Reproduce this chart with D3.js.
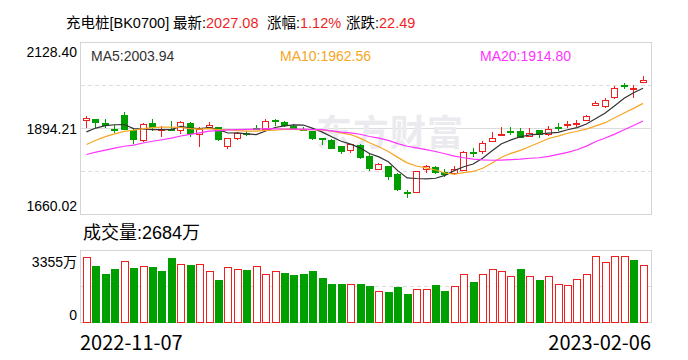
<!DOCTYPE html>
<html>
<head>
<meta charset="utf-8">
<script src="https://cdn.jsdelivr.net/npm/d3@7"></script>
<style>
  body { margin: 0; background: #fff; }
  text { font-family: "Liberation Sans", "Noto Sans CJK SC", sans-serif; }
  text.cjk { font-family: "Noto Sans CJK SC", sans-serif; }
</style>
</head>
<body>
<div id="chart"></div>
<script>
// trading days shown in the window
const dates = [
  "2022-11-07","2022-11-08","2022-11-09","2022-11-10","2022-11-11","2022-11-14","2022-11-15","2022-11-16",
  "2022-11-17","2022-11-18","2022-11-21","2022-11-22","2022-11-23","2022-11-24","2022-11-25","2022-11-28",
  "2022-11-29","2022-11-30","2022-12-01","2022-12-02","2022-12-05","2022-12-06","2022-12-07","2022-12-08",
  "2022-12-09","2022-12-12","2022-12-13","2022-12-14","2022-12-15","2022-12-16","2022-12-19","2022-12-20",
  "2022-12-21","2022-12-22","2022-12-23","2022-12-26","2022-12-27","2022-12-28","2022-12-29","2022-12-30",
  "2023-01-03","2023-01-04","2023-01-05","2023-01-06","2023-01-09","2023-01-10","2023-01-11","2023-01-12",
  "2023-01-13","2023-01-16","2023-01-17","2023-01-18","2023-01-19","2023-01-20","2023-01-30","2023-01-31",
  "2023-02-01","2023-02-02","2023-02-03","2023-02-06"
];

const open  = [1918,1919,1910,1894,1930,1891,1864,1908,1893,1894,1891,1910,1880,1897,1897,1846,1868,1882,1895,1893,
               1916,1911,1902,1894,1887,1867,1862,1846,1835,1848,1819,1784,1792,1769,1720,1722,1785,1790,1776,1774,
               1781,1831,1832,1860,1878,1888,1887,1875,1890,1878,1897,1903,1909,1917,1958,1955,1979,2012,2004.59,2021];
const high  = [1928,1921,1919,1905,1939,1896,1908,1921,1900,1914,1914,1913,1898,1912,1898,1867,1884,1887,1905,1919,
               1919,1914,1907,1898,1888,1868,1866,1847,1853,1851,1826,1801,1793,1774,1728,1779,1796,1791,1784,1791,
               1834,1842,1860,1885,1899,1899,1896,1896,1891,1900,1908,1914,1917,1932,1970,1976,2009,2017,2014,2038];
const low   = [1899,1898,1898,1884,1892,1855,1861,1891,1873,1890,1882,1875,1846,1895,1864,1841,1866,1877,1893,1892,
               1905,1900,1892,1889,1866,1851,1840,1828,1830,1814,1781,1783,1757,1726,1708,1721,1775,1774,1766,1770,
               1780,1819,1828,1859,1877,1878,1870,1874,1872,1877,1890,1899,1902,1916,1957,1952,1976,2005,1981,2020];
const close = [1922,1912,1905,1892,1894,1866,1907,1897,1893,1892,1912,1881,1893,1904,1865,1867,1882,1880,1894,1914,
               1915,1905,1893,1891,1868,1865,1842,1832,1852,1817,1787,1797,1766,1730,1719,1778,1792,1775,1769,1783,
               1831,1829,1855,1869,1879,1884,1871,1881,1879,1892,1895,1907,1910,1929,1965,1972,2005,2011,2004.59,2027.08];
// closes before the window (estimated), so the moving averages start where they do
const prevClose = [1785,1792,1780,1798,1805,1790,1802,1810,1800,1800,1795,1808,1815,1828,1835,1860,1872,1880,1891];

// volume in 万
const volume = [3043,2624,2283,2484,2889,2530,2656,2577,2391,2996,2749,2670,2749,2423,1971,2563,2470,2437,2610,2283,
                2423,2297,2204,2251,2391,2064,1785,1785,1817,1785,1692,1491,1412,1645,1319,1538,1538,1738,1459,1692,
                2237,1878,2283,2516,2377,2190,2484,2158,1971,2158,1817,1738,2004,2237,3122,2796,3122,3122,2903,2684];

const priceTicks = [1660.02, 1894.21, 2128.40];
const volTicks = [0, 3355];
const maPeriods = [5, 10, 20];
const maLabels = ["2003.94", "1962.56", "1914.80"];
const maColors = ["#333333", "#f5a623", "#ff33ff"];
const quote = { name: "充电桩[BK0700]", last: "2027.08", pct: "1.12%", chg: "22.49" };

const RED = "#f01f1f", GREEN = "#009f00";

const width = 688, height = 360;
const svg = d3.select("#chart").append("svg")
  .attr("width", width).attr("height", height)
  .attr("viewBox", [0, 0, width, height]);

// title: label/value groups placed where the reference has them
const titleGroups = [[quote.name, null, 66], ["最新:", quote.last, 173], ["涨幅:", quote.pct, 267], ["涨跌:", quote.chg, 346]];
titleGroups.forEach(([label, val, px]) => {
  const t = svg.append("text").attr("x", px).attr("y", 28).attr("font-size", 14.5).attr("fill", "#000");
  t.append("tspan").text(label);
  if (val) t.append("tspan").attr("fill", RED).text(val);
});

const x = d3.scaleBand().domain(dates).range([82, 648]).paddingInner(0.2).paddingOuter(0.1);
const y = d3.scaleLinear().domain([priceTicks[0], priceTicks[2]]).range([214.5, 42.5]);
const yv = d3.scaleLinear().domain(volTicks).range([322.5, 250.5]);

// price frame + grid
svg.append("rect").attr("x", 80.5).attr("y", 42.5).attr("width", 571).attr("height", 172)
  .attr("fill", "none").attr("stroke", "#d4d4da");
const q = (priceTicks[2] - priceTicks[0]) / 4;
[priceTicks[0] + q, priceTicks[2] - q].forEach(v => {
  svg.append("line").attr("x1", 81).attr("x2", 651).attr("y1", y(v)).attr("y2", y(v))
    .attr("stroke", "#dcdcdc").attr("stroke-dasharray", "4,3");
});
svg.append("line").attr("x1", 81).attr("x2", 651).attr("y1", y(priceTicks[1])).attr("y2", y(priceTicks[1]))
  .attr("stroke", "#dcdcdc");

// watermark
svg.append("text").attr("class", "cjk").attr("x", 316).attr("y", 146).attr("font-size", 36).attr("font-weight", "bold")
  .attr("fill", "#ebebef").attr("letter-spacing", 1).text("东方财富");

// price labels
svg.selectAll(".plabel").data(priceTicks).join("text")
  .attr("class", "plabel")
  .attr("x", 77).attr("text-anchor", "end").attr("dominant-baseline", "central")
  .attr("y", (d, i) => y(d) + (i === 0 ? -9 : i === 2 ? 9 : 0))
  .attr("font-size", 14).attr("fill", "#000").text(d => d.toFixed(2));

// legend
maPeriods.forEach((p, i) => {
  svg.append("text").attr("x", [91, 280, 480][i]).attr("y", 56).attr("dominant-baseline", "central")
    .attr("font-size", 14).attr("fill", maColors[i]).text(`MA${p}:${maLabels[i]}`);
});

// candles
const allClose = prevClose.concat(close);
const off = prevClose.length;
const candles = svg.append("g");
dates.forEach((d, i) => {
  const left = Math.round(x(d));
  const up = close[i] >= open[i];
  const c = up ? RED : GREEN;
  const top = Math.round(y(Math.max(open[i], close[i])));
  const bot = Math.round(y(Math.min(open[i], close[i])));
  const g = candles.append("g");
  g.append("line").attr("x1", left + 3.5).attr("x2", left + 3.5)
    .attr("y1", Math.round(y(high[i]))).attr("y2", Math.round(y(low[i])) + 1)
    .attr("stroke", c);
  if (up) {
    g.append("rect").attr("x", left + 0.5).attr("y", top + 0.5).attr("width", 6)
      .attr("height", Math.max(bot - top, 1)).attr("fill", "#fff").attr("stroke", c);
  } else {
    g.append("rect").attr("x", left).attr("y", top).attr("width", 7)
      .attr("height", Math.max(bot - top, 1) + 1).attr("fill", c);
  }
});

// moving averages
maPeriods.forEach((p, k) => {
  const vals = dates.map((d, i) => d3.mean(allClose.slice(off + i - p + 1, off + i + 1)));
  const line = d3.line().x((v, i) => x(dates[i]) + 3.5).y(v => y(v));
  svg.append("path").datum(vals).attr("fill", "none").attr("stroke", maColors[k])
    .attr("stroke-width", 1.2).attr("d", line);
});

// volume panel
svg.append("text").attr("x", 83).attr("y", 233).attr("dominant-baseline", "central")
  .attr("font-size", 18).attr("fill", "#000").text(`成交量:${volume[volume.length - 1]}万`);
svg.append("rect").attr("x", 80.5).attr("y", 250.5).attr("width", 571).attr("height", 72)
  .attr("fill", "none").attr("stroke", "#d4d4da");
svg.append("line").attr("x1", 81).attr("x2", 651).attr("y1", yv(volTicks[1] / 2)).attr("y2", yv(volTicks[1] / 2))
  .attr("stroke", "#dcdcdc").attr("stroke-dasharray", "4,3");
svg.selectAll(".vlabel").data(volTicks).join("text")
  .attr("class", "vlabel")
  .attr("x", 77).attr("text-anchor", "end").attr("dominant-baseline", "central")
  .attr("y", (d, i) => yv(d) + (i === 0 ? -8 : 11))
  .attr("font-size", 14).attr("fill", "#000").text(d => d === 0 ? "0" : d + "万");

dates.forEach((d, i) => {
  const left = Math.round(x(d));
  const up = allClose[off + i] > allClose[off + i - 1];
  const top = Math.round(yv(volume[i]));
  if (up) {
    svg.append("rect").attr("x", left + 0.5).attr("y", top + 0.5).attr("width", 7)
      .attr("height", 322 - top).attr("fill", "#fff").attr("stroke", RED);
  } else {
    svg.append("rect").attr("x", left).attr("y", top).attr("width", 8)
      .attr("height", 323 - top).attr("fill", GREEN);
  }
});

// date labels
svg.append("text").attr("class", "cjk").attr("x", 80).attr("y", 341).attr("dominant-baseline", "central")
  .attr("font-size", 20).attr("fill", "#000").text(dates[0]);
svg.append("text").attr("class", "cjk").attr("x", 651).attr("y", 341).attr("dominant-baseline", "central").attr("text-anchor", "end")
  .attr("font-size", 20).attr("fill", "#000").text(dates[dates.length - 1]);
</script>
</body>
</html>
